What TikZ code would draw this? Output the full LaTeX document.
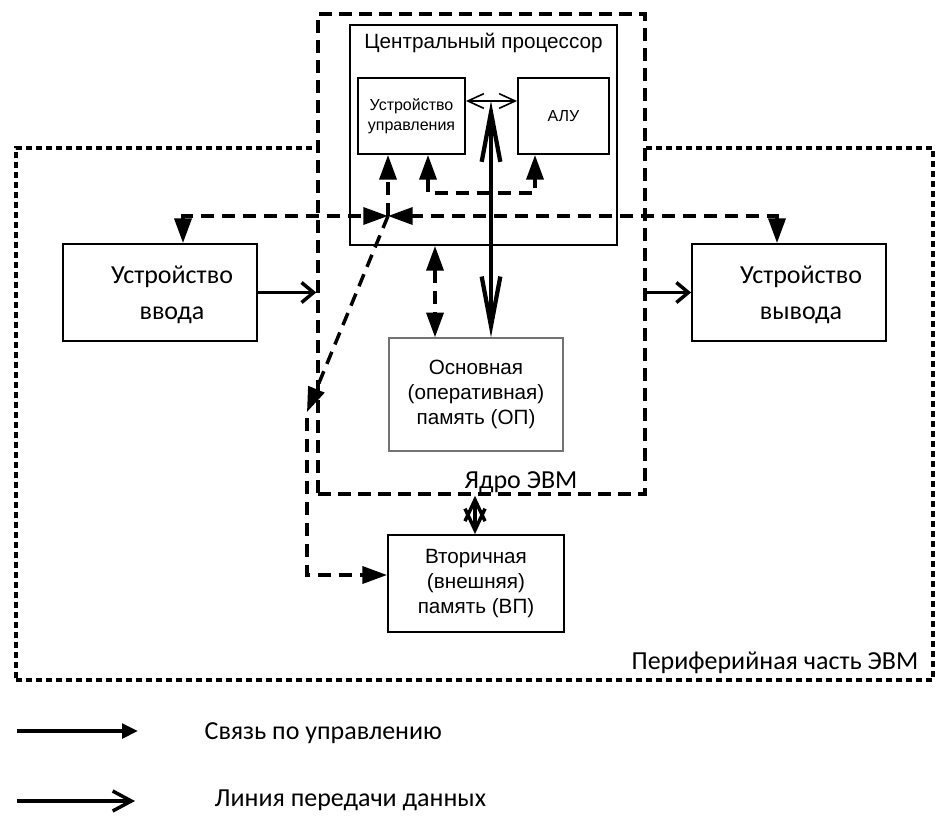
\documentclass[tikz,border=0pt]{standalone}
\usepackage{fontspec}
\setmainfont{Liberation Sans}
\newfontfamily\calfont{Carlito}
\usetikzlibrary{arrows.meta}

\begin{document}
\begin{tikzpicture}[x=0.75pt,y=-0.75pt,
  box/.style={draw,line width=1.4pt,fill=white,inner sep=0pt},
  arialtxt/.style={font=\fontsize{15.5}{18.75}\selectfont,align=center},
  smalltxt/.style={font=\fontsize{12}{15}\selectfont,align=center},
  caltxt/.style={font=\calfont\fontsize{19.5}{27}\selectfont,align=center},
  coreline/.style={line width=2.6pt,dash pattern=on 9.75pt off 5.25pt},
  periline/.style={line width=2.6pt,dash pattern=on 4.5pt off 3pt},
  ctl/.style={line width=2.6pt,dash pattern=on 9.75pt off 6pt},
  tri/.tip={Triangle[length=18.5pt,width=12.75pt]},
  barb/.tip={Straight Barb[length=9pt,width=15pt]},
  bigbarb/.tip={Straight Barb[length=37pt,width=14pt]},
  midbarb/.tip={Straight Barb[length=16pt,width=15pt]},
  thinbarb/.tip={Straight Barb[length=12pt,width=11pt]}]
\useasboundingbox (0,0) rectangle (936,819);

% peripheral part of the computer and its core
\node[draw,periline,inner sep=0pt,minimum width=687.75pt,minimum height=399pt]
  (peri) at (474.5,414) {};
\node[draw,coreline,fill=white,inner sep=0pt,minimum width=245.25pt,minimum height=360pt]
  (core) at (481.5,254) {};

% processor and its units
\node[box,minimum width=200.25pt,minimum height=165pt] (cpu) at (483.5,135) {};
\node[arialtxt] (cpulbl) at (483.5,43) {Центральный процессор};
\node[box,smalltxt,minimum width=80.25pt,minimum height=57pt] (uu) at (411.5,116)
  {Устройство\\управления};
\node[box,smalltxt,minimum width=68.25pt,minimum height=57pt] (alu) at (563.5,116) {АЛУ};

% devices and memories
\node[box,minimum width=145.5pt,minimum height=72.75pt] (in) at (160,292.5) {};
\node[caltxt] (inlbl) at (172,295) {Устройство\\ввода};
\node[box,minimum width=145.5pt,minimum height=72.75pt] (out) at (789,292.5) {};
\node[caltxt] (outlbl) at (801,295) {Устройство\\вывода};
\node[draw=black!55,line width=1pt,fill=white,inner sep=0pt,arialtxt,
  minimum width=130.5pt,minimum height=84.75pt] (op) at (476,394.5)
  {Основная\\(оперативная)\\память (ОП)};
\node[box,arialtxt,minimum width=132pt,minimum height=72.75pt] (vp) at (476,583.5)
  {Вторичная\\(внешняя)\\память (ВП)};

\node[caltxt] (corelbl) at (521,482) {Ядро ЭВМ};
\node[caltxt,anchor=east] (perilbl) at (923,663) {Периферийная часть ЭВМ};

% bend points of the control lines
\coordinate (J) at (388,216);
\coordinate (busL) at (183,216);
\coordinate (busR) at (777,216);
\coordinate (D) at (307,412);
\coordinate (D2) at (307,418);
\coordinate (vpIn) at (307,575);
\coordinate (ux) at (428,193);
\coordinate (ax) at (535,193);
\coordinate (opx) at (435,0);
\coordinate (T) at (491,101);
\coordinate (kx) at (475,0);

% control links
\draw[ctl,{tri}-{tri}] (in.north -| busL) |- (J);
\draw[ctl,{tri}-{tri}] (out.north -| busR) |- (J);
\draw[ctl,-{tri}] (J) -- (J |- uu.south);
\draw[ctl,-{tri}] (J) -- (D);
\draw[ctl,-{tri}] (D2) -- (vpIn) -- (vpIn -| vp.west);
\draw[ctl,{tri}-{tri}] (uu.south -| ux) -- (ux) -- (ax) -- (ax |- alu.south);
\draw[ctl,{tri}-{tri}] (cpu.south -| opx) -- (op.north -| opx);

% data lines
\draw[line width=1.2pt,{thinbarb}-{thinbarb}] (uu.east |- T) -- (alu.west |- T);
\draw[line width=3.2pt,{bigbarb}-{bigbarb}] (T) -- (T |- op.north);
\draw[line width=2.6pt,{midbarb}-{midbarb}] (core.south -| kx) -- (vp.north -| kx);
\draw[line width=2.6pt,-{barb}] (in.east) -- (in.east -| core.west);
\draw[line width=2.6pt,-{barb}] (core.east |- out.west) -- (out.west);

% legend
\coordinate (l1s) at (17,731);
\coordinate (l1e) at (138,731);
\coordinate (l2s) at (17,801);
\coordinate (l2e) at (135,801);
\draw[line width=2.6pt,-{Triangle[length=12pt,width=11pt]}] (l1s) -- (l1e);
\draw[line width=2.6pt,-{Straight Barb[length=14pt,width=15pt]}] (l2s) -- (l2e);
\node[caltxt,anchor=west] (leg1) at (200,733) {Связь по управлению};
\node[caltxt,anchor=west] (leg2) at (210,800) {Линия передачи данных};
\end{tikzpicture}
\end{document}
